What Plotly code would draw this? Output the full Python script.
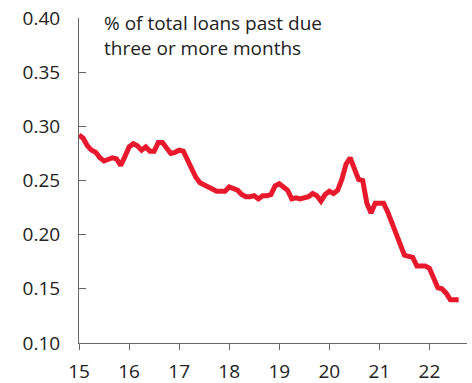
import plotly.graph_objects as go

# Monthly series, Jan 2015 onwards (x in years since 2000)
start_year = 15
past_due_share = [
    0.292, 0.289, 0.282, 0.278, 0.276, 0.271, 0.268, 0.269, 0.271, 0.270, 0.264, 0.272,
    0.281, 0.284, 0.282, 0.278, 0.281, 0.277, 0.277, 0.285, 0.285, 0.280, 0.275, 0.276,
    0.278, 0.277, 0.269, 0.263, 0.253, 0.248, 0.246, 0.245, 0.242, 0.240, 0.240, 0.240,
    0.244, 0.242, 0.241, 0.237, 0.235, 0.235, 0.236, 0.233, 0.236, 0.236, 0.237, 0.245,
    0.247, 0.244, 0.241, 0.233, 0.234, 0.233, 0.234, 0.235, 0.238, 0.236, 0.231, 0.237,
    0.240, 0.238, 0.241, 0.251, 0.265, 0.271, 0.261, 0.251, 0.250, 0.229, 0.220, 0.229,
    0.229, 0.229, 0.221, 0.211, 0.200, 0.190, 0.181, 0.180, 0.179, 0.171, 0.171, 0.171,
    0.169, 0.160, 0.151, 0.150, 0.146, 0.140, 0.140, 0.140,
]
x_years = [start_year + i / 12 for i in range(len(past_due_share))]

x_ticks = [15, 16, 17, 18, 19, 20, 21, 22]
y_ticks = [0.10, 0.15, 0.20, 0.25, 0.30, 0.35, 0.40]

FONT = "Open Sans"
TEXT = "#222222"
AXIS = "#666666"

fig = go.Figure(
    go.Scatter(
        x=x_years,
        y=past_due_share,
        mode="lines",
        line=dict(color="#e8192c", width=5),
        hoverinfo="skip",
    )
)

fig.update_layout(
    width=472,
    height=383,
    margin=dict(l=79, r=5, t=18, b=40),
    paper_bgcolor="white",
    plot_bgcolor="white",
    showlegend=False,
    font=dict(family=FONT, size=18, color=TEXT),
    annotations=[
        dict(
            text="% of total loans past due<br>three or more months",
            xref="paper", yref="paper",
            x=0.06, y=1.03,
            xanchor="left", yanchor="top",
            align="left",
            showarrow=False,
            font=dict(family=FONT, size=19, color=TEXT),
        )
    ],
)

fig.update_xaxes(
    range=[15, 22.75],
    tickvals=x_ticks,
    ticktext=[str(v) for v in x_ticks],
    ticks="outside",
    ticklen=6,
    tickcolor=AXIS,
    showline=True,
    linecolor=AXIS,
    linewidth=1,
    showgrid=False,
    zeroline=False,
    automargin=False,
    ticklabelstandoff=5,
    tickfont=dict(family=FONT, size=19, color=TEXT),
)

fig.update_yaxes(
    range=[0.10, 0.40],
    tickvals=y_ticks,
    ticktext=[f"{v:.2f}" for v in y_ticks],
    ticks="inside",
    ticklen=7,
    tickcolor=AXIS,
    showline=True,
    linecolor=AXIS,
    linewidth=1,
    showgrid=False,
    zeroline=False,
    automargin=False,
    ticklabelstandoff=14,
    tickfont=dict(family=FONT, size=19, color=TEXT),
)

fig.write_html("out.html")
